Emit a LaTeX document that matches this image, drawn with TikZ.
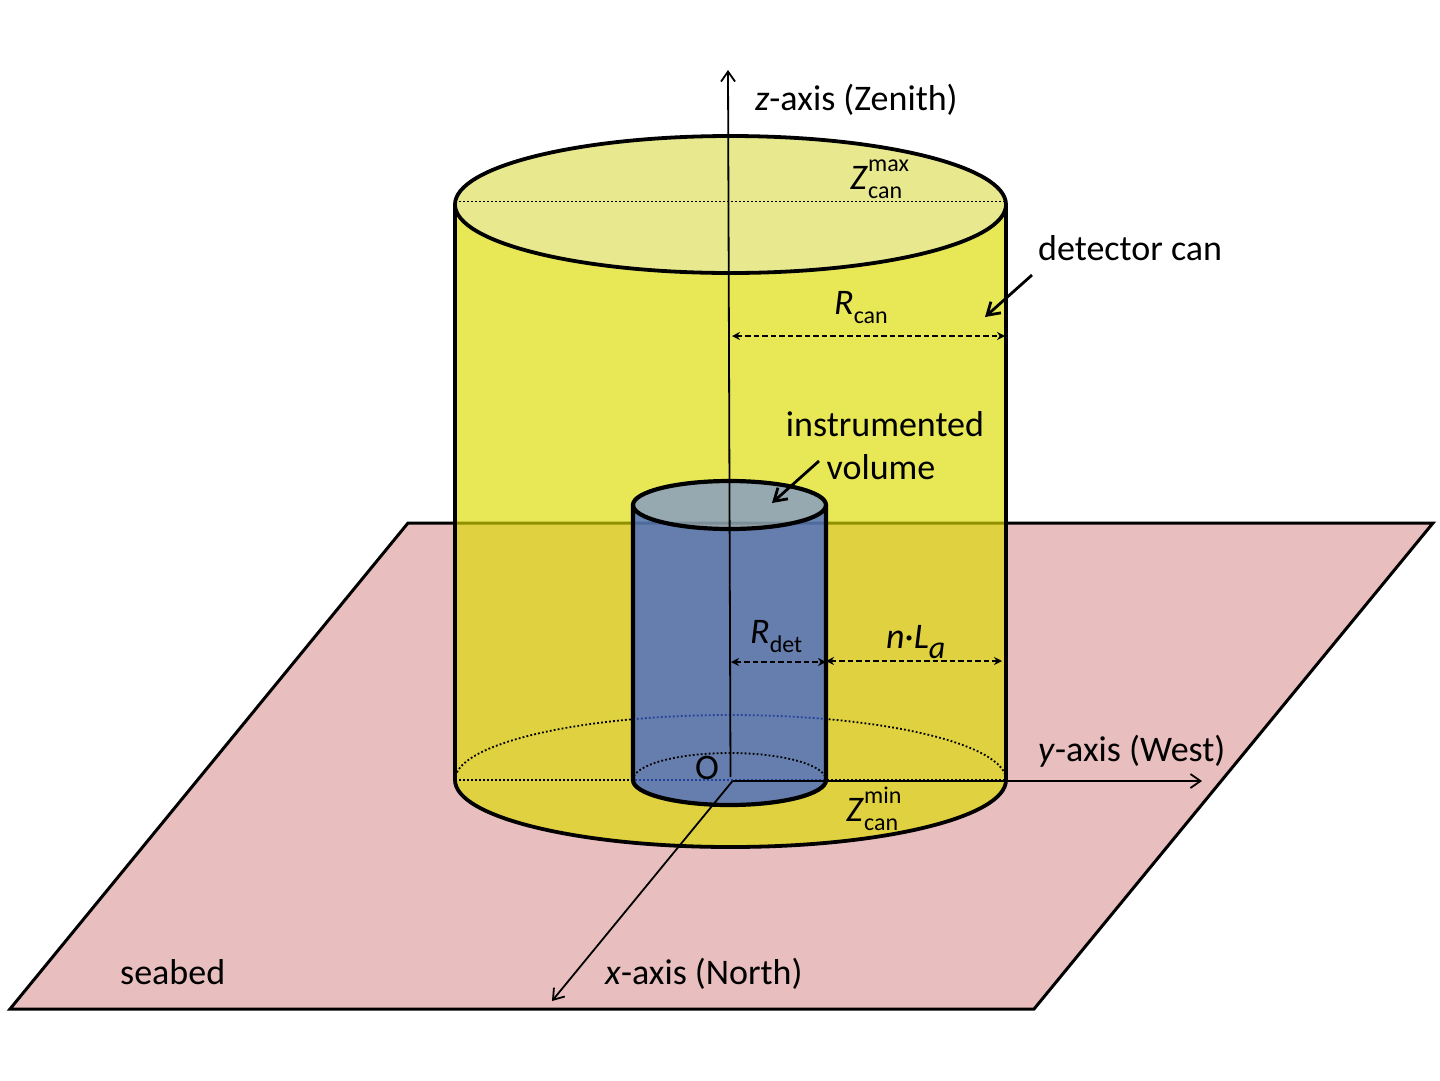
\documentclass[tikz,border=0pt]{standalone}
\usepackage{fontspec}
\setmainfont{Carlito}
\usetikzlibrary{arrows.meta}
\definecolor{seabedpink}{RGB}{232,190,190}
\definecolor{canyellow}{RGB}{220,220,0}
\definecolor{cantop}{RGB}{232,232,143}
\definecolor{detblue}{RGB}{50,91,220}
\definecolor{dettop}{RGB}{116,142,216}
\newcommand{\supsub}[2]{\rlap{\raisebox{0.5em}{\fontsize{24}{24}\selectfont #1}}\raisebox{-0.27em}{\fontsize{24}{24}\selectfont #2}}
\newcommand{\subonly}[1]{\raisebox{-0.26em}{\fontsize{24}{24}\selectfont #1}}
\tikzset{
  lbl/.style={inner sep=0pt,font=\fontsize{36}{40}\selectfont},
  axisline/.style={line width=1.8pt,->,>={Straight Barb[length=10pt,width=14pt]}},
  dimline/.style={line width=2pt,dash pattern=on 5.5pt off 3pt,{Stealth[length=8pt,width=8pt]}-{Stealth[length=8pt,width=8pt]}},
  callout/.style={line width=2.8pt,->,>={Straight Barb[length=12pt,width=15pt]}},
  rim/.style={line width=3.8pt},
  hidden/.style={line width=1.8pt,dash pattern=on 1.8pt off 2.2pt}
}
\begin{document}
\begin{tikzpicture}[x=1pt,y=-1pt]
\useasboundingbox (0,0) rectangle (1440,1080);
\coordinate (orig) at (732.5,781);
\coordinate (ztip) at (728,70);
\coordinate (zfoot) at (730.5,777);
\coordinate (ytip) at (1202,781);
\coordinate (xtip) at (552,1001);
\draw[line width=3pt,fill=seabedpink] (408,523) -- (1433,523) -- (1034,1009) -- (10,1009) -- cycle;
\fill[canyellow,opacity=0.66] (455,203) -- (455,780) arc[start angle=180,end angle=360,x radius=275.5pt,y radius=67pt] -- (1006,203) arc[start angle=360,end angle=180,x radius=275.5pt,y radius=68pt] -- cycle;
\draw[hidden] (455,780) arc[start angle=180,end angle=0,x radius=275.5pt,y radius=65pt];
\draw[hidden] (455,780) -- (1006,780);
\draw[rim] (1006,203) -- (1006,780) arc[start angle=360,end angle=180,x radius=275.5pt,y radius=67pt] -- (455,203);
\draw[rim,fill=cantop] (730.5,204.5) ellipse[x radius=275.5pt,y radius=68.5pt];
\draw[hidden] (455,201.5) -- (1006,201.5);
\fill[detblue,opacity=0.7] (633,505) -- (633,780) arc[start angle=180,end angle=360,x radius=96.5pt,y radius=25pt] -- (826,505) arc[start angle=360,end angle=180,x radius=96.5pt,y radius=24pt] -- cycle;
\fill[dettop,opacity=0.7] (729.5,505) ellipse[x radius=96.5pt,y radius=24pt];
\draw[line width=4.2pt] (826,505) -- (826,780) arc[start angle=360,end angle=180,x radius=96.5pt,y radius=25pt] -- (633,505);
\draw[line width=4.2pt] (729.5,505) ellipse[x radius=96.5pt,y radius=24pt];
\draw[hidden] (633,780) arc[start angle=180,end angle=0,x radius=96.5pt,y radius=27pt];
\draw[axisline] (zfoot) -- (ztip);
\draw[axisline] (orig) -- (ytip);
\draw[axisline] (orig) -- (xtip);
\coordinate (rcanl) at (732,336);
\coordinate (rcanr) at (1005,336);
\draw[dimline] (rcanl) -- (rcanr);
\coordinate (rdetl) at (731,662);
\coordinate (rdetr) at (826,662);
\draw[dimline] (rdetl) -- (rdetr);
\coordinate (nlal) at (826,661);
\coordinate (nlar) at (1002,661);
\draw[dimline] (nlal) -- (nlar);
\coordinate (canfrom) at (1032,275);
\coordinate (canto) at (985,317);
\draw[callout] (canfrom) -- (canto);
\coordinate (volfrom) at (819,461);
\coordinate (volto) at (772,503);
\draw[callout] (volfrom) -- (volto);
\node[lbl,anchor=base west] (zaxis) at (755,110) {\textit{z}-axis (Zenith)};
\node[lbl,anchor=base west] (detcan) at (1038,260) {detector can};
\node[lbl,anchor=base] (instr) at (885,436) {instrumented};
\node[lbl,anchor=base] (vol) at (881,479) {volume};
\node[lbl,anchor=base west] (yaxis) at (1038,761) {\textit{y}-axis (West)};
\node[lbl,anchor=base west] (xaxis) at (605,984) {\textit{x}-axis (North)};
\node[lbl,anchor=base west] (seabed) at (120,984) {seabed};
\node[lbl,anchor=base west] (origin) at (695,779) {O};
\node[lbl,anchor=base west] (zmax) at (850,189) {\textit{Z}\supsub{max}{can}};
\node[lbl,anchor=base west] (zmin) at (846,821) {\textit{Z}\supsub{min}{can}};
\node[lbl,anchor=base west] (rcan) at (834,314) {\textit{R}\subonly{can}};
\node[lbl,anchor=base west] (rdet) at (750,643) {\textit{R}\subonly{det}};
\node[lbl,anchor=base west] (nla) at (886,648) {\textit{n}·\textit{L}\raisebox{-0.3em}{\fontsize{32}{32}\selectfont\textit{a}}};
\end{tikzpicture}
\end{document}
